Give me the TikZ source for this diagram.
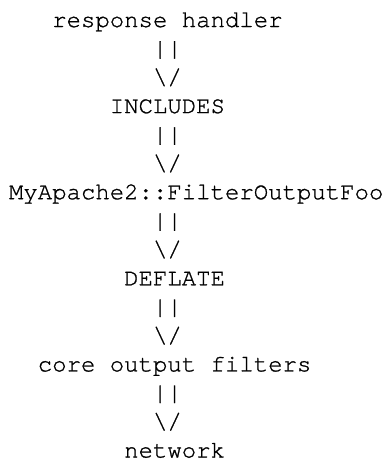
\documentclass[tikz,border=0pt]{standalone}
\usepackage{fontspec}
\newfontfamily\asciimono[Ligatures={NoCommon},FakeBold=1]{TeX Gyre Cursor}
\begin{document}
\begin{tikzpicture}[x=1pt,y=1pt,
  line/.style={anchor=base west,inner sep=0pt,outer sep=0pt,
    font=\asciimono\fontsize{24}{28.7}\selectfont,text=black}]
\useasboundingbox (0,0) rectangle (385,-459);
\def\cw{14.4}
\def\lh{28.7}
\def\xo{9}
\def\yo{27}
% row n, column c
\node[line] (resp)   at ({\xo+3*\cw},{-(\yo+0*\lh)})  {response handler};
\node[line] (p1)     at ({\xo+10*\cw},{-(\yo+1*\lh)}) {||};
\node[line] (v1)     at ({\xo+10*\cw},{-(\yo+2*\lh)}) {\textbackslash/};
\node[line] (incl)   at ({\xo+7*\cw},{-(\yo+3*\lh)})  {INCLUDES};
\node[line] (p2)     at ({\xo+10*\cw},{-(\yo+4*\lh)}) {||};
\node[line] (v2)     at ({\xo+10*\cw},{-(\yo+5*\lh)}) {\textbackslash/};
\node[line] (foo)    at ({\xo+0*\cw},{-(\yo+6*\lh)})  {MyApache2::FilterOutputFoo};
\node[line] (p3)     at ({\xo+10*\cw},{-(\yo+7*\lh)}) {||};
\node[line] (v3)     at ({\xo+10*\cw},{-(\yo+8*\lh)}) {\textbackslash/};
\node[line] (defl)   at ({\xo+8*\cw},{-(\yo+9*\lh)})  {DEFLATE};
\node[line] (p4)     at ({\xo+10*\cw},{-(\yo+10*\lh)}) {||};
\node[line] (v4)     at ({\xo+10*\cw},{-(\yo+11*\lh)}) {\textbackslash/};
\node[line] (core)   at ({\xo+2*\cw},{-(\yo+12*\lh)})  {core output filters};
\node[line] (p5)     at ({\xo+10*\cw},{-(\yo+13*\lh)}) {||};
\node[line] (v5)     at ({\xo+10*\cw},{-(\yo+14*\lh)}) {\textbackslash/};
\node[line] (net)    at ({\xo+8*\cw},{-(\yo+15*\lh)})  {network};
\end{tikzpicture}
\end{document}
